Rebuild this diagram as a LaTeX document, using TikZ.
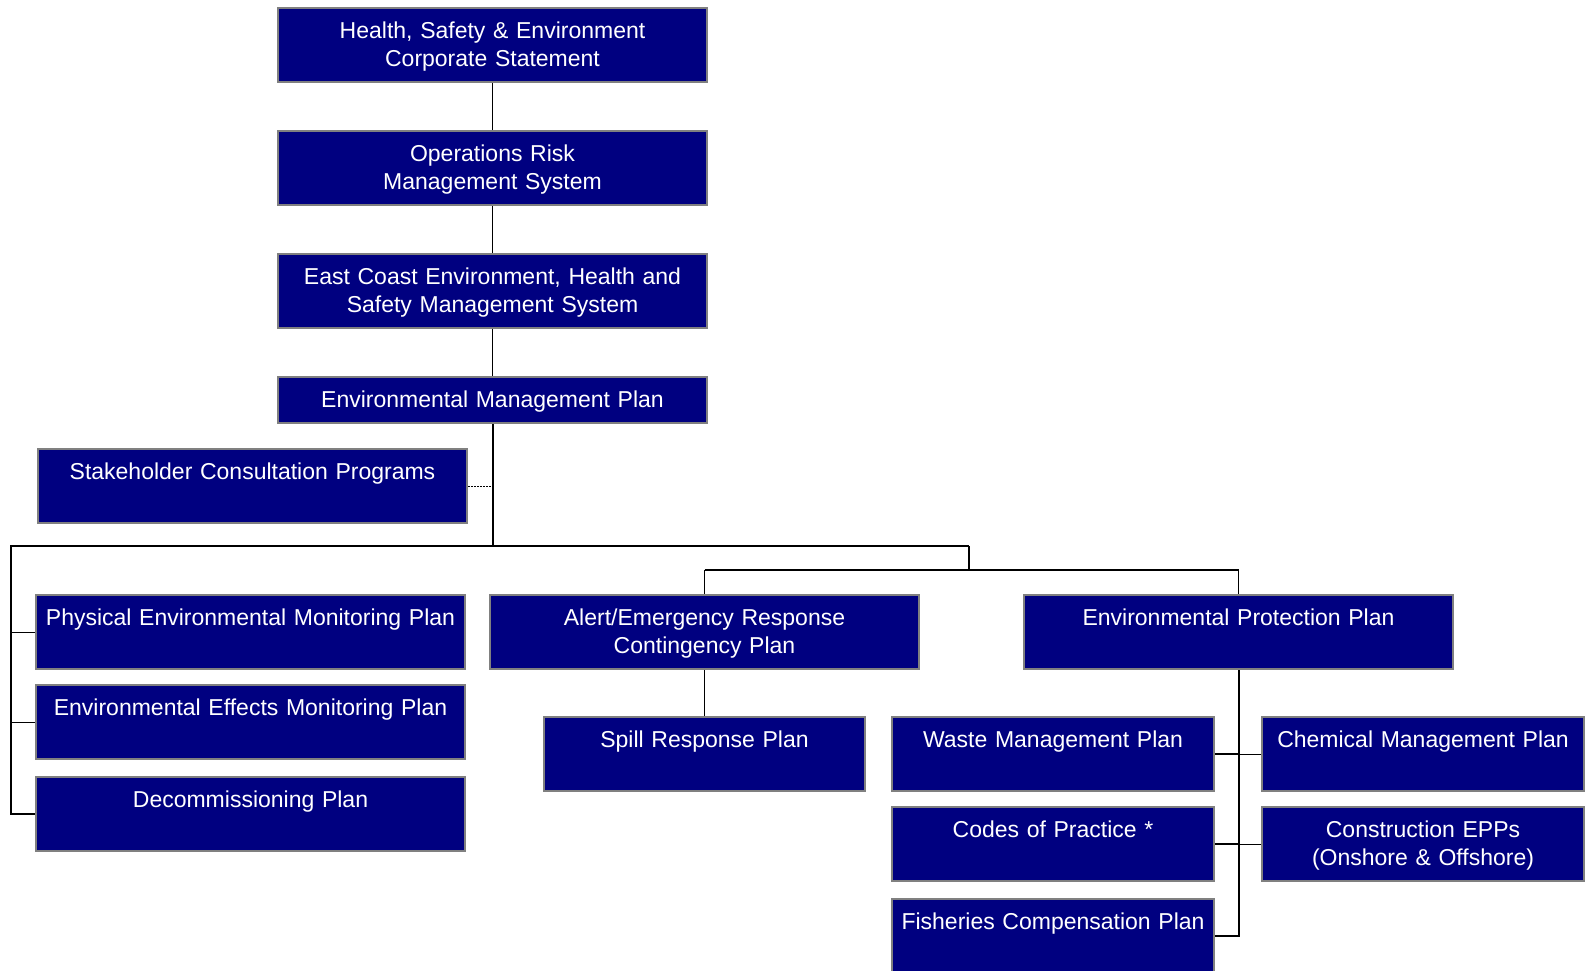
\documentclass[tikz,border=0pt]{standalone}
\usepackage{fontspec}
\setmainfont{Liberation Sans}
\usepackage{xcolor}
\definecolor{planblue}{RGB}{0,0,128}

\begin{document}
\begin{tikzpicture}[x=1pt, y=-1pt,
	plan/.style={draw=gray, line width=2pt, fill=planblue, text=white, anchor=north west,
		inner xsep=0pt, inner ysep=0pt, align=center, text height=30pt, text depth=44pt,
		font=\fontsize{23}{28}\selectfont},
	wide/.style={plan, text width=429pt},
	narrow/.style={plan, text width=322pt},
	link/.style={line width=1pt},
	trunk/.style={line width=2pt}]
	% page: 1589 x 970, 1px = 1pt, y grows downwards
	\useasboundingbox (0,0) rectangle (1589,970);

	% management system chain
	\node[wide] (hse) at (277,7) {Health, Safety \& Environment\\Corporate Statement};
	\node[wide] (orms) at (277,130) {Operations Risk\\Management System};
	\node[wide] (ecehs) at (277,253) {East Coast Environment, Health and\\Safety Management System};
	\node[wide, text depth=16pt] (emp) at (277,376) {Environmental Management Plan};
	\node[wide] (stake) at (37,448) {Stakeholder Consultation Programs};

	% left column
	\node[wide] (phys) at (35,594) {Physical Environmental Monitoring Plan};
	\node[wide] (eem) at (35,684) {Environmental Effects Monitoring Plan};
	\node[wide] (decom) at (35,776) {Decommissioning Plan};

	% contingency
	\node[wide] (alert) at (489,594) {Alert/Emergency Response\\Contingency Plan};
	\node[narrow, text width=321pt] (spill) at (543,716) {Spill Response Plan};

	% protection plan and its parts
	\node[wide] (epp) at (1023,594) {Environmental Protection Plan};
	\node[narrow] (waste) at (891,716) {Waste Management Plan};
	\node[narrow] (codes) at (891,806) {Codes of Practice *};
	\node[narrow] (fish) at (891,898) {Fisheries Compensation Plan};
	\node[narrow] (chem) at (1261,716) {Chemical Management Plan};
	\node[narrow] (constr) at (1261,806) {Construction EPPs\\(Onshore \& Offshore)};

	% bus points
	\coordinate (hub) at (emp.south |- 0,546);
	\coordinate (lbus) at (11,546);
	\coordinate (rbus) at (969,546);
	\coordinate (mid) at (969,570);

	% connectors
	\draw[link] (hse) -- (orms);
	\draw[link] (orms) -- (ecehs);
	\draw[link] (ecehs) -- (emp);
	\draw[trunk] (emp.south) -- (hub);
	\draw[link, dash pattern=on 1.5pt off 1.5pt] (stake.east) -- (stake.east -| hub);

	\draw[trunk] (rbus) -- (lbus) -- (lbus |- decom.west) -- (decom.west);
	\draw[link] (lbus |- phys.west) -- (phys.west);
	\draw[link] (lbus |- eem.west) -- (eem.west);

	\draw[trunk] (rbus) -- (mid);
	\draw[trunk] (alert.north |- mid) -- (epp.north |- mid);
	\draw[link] (alert.north |- mid) -- (alert.north);
	\draw[link] (epp.north |- mid) -- (epp.north);
	\draw[link] (alert.south) -- (alert.south |- spill.north);

	\draw[trunk] (epp.south) -- (epp.south |- fish.east) -- (fish.east);
	\draw[trunk] (waste.east) -- (waste.east -| epp.south);
	\draw[trunk] (codes.east) -- (codes.east -| epp.south);
	\draw[link] (chem.west) -- (chem.west -| epp.south);
	\draw[link] (constr.west) -- (constr.west -| epp.south);
\end{tikzpicture}
\end{document}
